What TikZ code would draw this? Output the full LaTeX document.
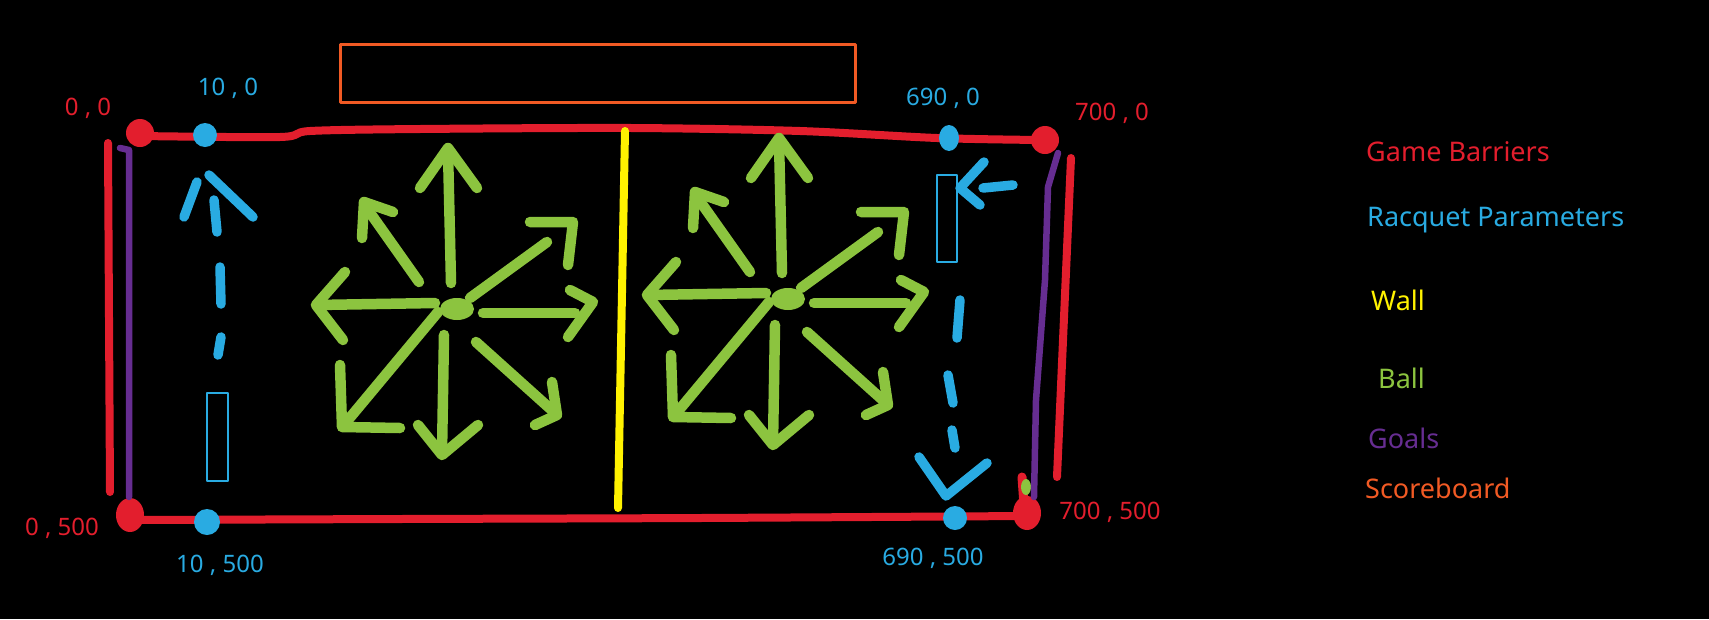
\documentclass[tikz,border=0pt]{standalone}
\usepackage{fontspec}
\setmainfont{Noto Sans}
\definecolor{gbred}{HTML}{E31E2D}
\definecolor{rqblue}{HTML}{29ABE2}
\definecolor{ballgreen}{HTML}{8CC43F}
\definecolor{wallyellow}{HTML}{FFF200}
\definecolor{goalpurple}{HTML}{662D91}
\definecolor{scoreorange}{HTML}{F15A24}
\begin{document}
\begin{tikzpicture}[x=1pt,y=-1pt,line cap=round,line join=round,
  barrier/.style={gbred,line width=8pt},
  goal/.style={goalpurple,line width=6.5pt},
  balla/.style={ballgreen,line width=10.5pt},
  rq/.style={rqblue,line width=9.5pt},
  rqbox/.style={rqblue,line width=2.5pt},
  lbl/.style={font=\fontsize{24}{24}\selectfont,inner sep=0pt},
  leg/.style={font=\fontsize{27}{30}\selectfont,inner sep=0pt,anchor=west}]
\fill[black] (0,0) rectangle (1709,619);
\useasboundingbox (0,0) rectangle (1709,619);
% scoreboard
\draw[scoreorange,line width=3pt] (340,44) rectangle (855,102);
% barriers
\draw[barrier] plot[smooth] coordinates {(140,136) (280,137) (310,131) (420,129) (632,128) (800,131) (937,138) (1040,140)};
\draw[barrier] plot[smooth] coordinates {(130,520) (400,519) (700,518) (1025,516)};
\draw[barrier] (108,143) -- (110,492);
\draw[barrier] (1071,158) -- (1057,477);
\draw[gbred,line width=9pt] (1022,477) -- (1024,505);
\fill[gbred] (140,133) circle (14);
\fill[gbred] (130,515) ellipse (14 and 17);
\fill[gbred] (1045,140) circle (14);
\fill[gbred] (1027,513) ellipse (14 and 17);
\fill[ballgreen] (1026,487) ellipse (5 and 8);
% goals
\draw[goal] (120,148) -- (129,150) -- (129,497);
\draw[goal] (1058,153) -- (1048,187) -- (1045,280) -- (1036,400) -- (1034,497);
% wall
\draw[wallyellow,line width=8pt] (625,131) -- (618,508);
% racquet points
\fill[rqblue] (205,135) circle (12);
\fill[rqblue] (207,522) circle (13);
\fill[rqblue] (949,138) ellipse (10 and 13);
\fill[rqblue] (955,518) circle (12);
% racquets
\draw[rqbox] (207,393) rectangle (228,481);
\draw[rqbox] (937,175) rectangle (957,262);
% left racquet movement
\draw[rq] (197,182) -- (184,217);
\draw[rq] (209,175) -- (253,217);
\draw[rq] (214,200) -- (217,232);
\draw[rq] (220,267) -- (221,304);
\draw[rq] (221,337) -- (218,355);
% right racquet movement
\draw[rq] (983,188) -- (1013,185);
\draw[rq] (984,162) -- (960,188) -- (980,205);
\draw[rq] (960,300) -- (957,338);
\draw[rq] (948,375) -- (953,403);
\draw[rq] (952,430) -- (955,448);
\draw[rq] (919,457) -- (946,496) -- (987,463);
% balls
\foreach \dx/\dy in {0/0,331/-10}{
\begin{scope}[shift={(\dx,\dy)}]
\fill[ballgreen] (457,309) ellipse (17 and 11);
\draw[balla] (451,283) -- (448,150);
\draw[balla] (420,188) -- (448,148) -- (477,188);
\draw[balla] (419,282) -- (366,207);
\draw[balla] (393,212) -- (364,202) -- (362,238);
\draw[balla] (435,303) -- (317,305);
\draw[balla] (345,272) -- (316,305) -- (343,340);
\draw[balla] (438,312) -- (343,426);
\draw[balla] (340,365) -- (342,427) -- (400,428);
\draw[balla] (444,335) -- (442,453);
\draw[balla] (418,425) -- (442,455) -- (478,425);
\draw[balla] (476,342) -- (555,413);
\draw[balla] (552,382) -- (557,415) -- (535,425);
\draw[balla] (483,313) -- (575,313);
\draw[balla] (570,290) -- (593,302) -- (568,337);
\draw[balla] (470,298) -- (547,242);
\draw[balla] (530,222) -- (573,222) -- (568,265);
\end{scope}}
% coordinate labels
\node[lbl,text=gbred] (c00) at (88,108) {0 , 0};
\node[lbl,text=rqblue] (c100) at (228,88) {10 , 0};
\node[lbl,text=gbred] (c0500) at (62,528) {0 , 500};
\node[lbl,text=rqblue] (c10500) at (220,565) {10 , 500};
\node[lbl,text=rqblue] (c6900) at (943,98) {690 , 0};
\node[lbl,text=gbred] (c7000) at (1112,113) {700 , 0};
\node[lbl,text=rqblue] (c690500) at (933,558) {690 , 500};
\node[lbl,text=gbred] (c700500) at (1110,512) {700 , 500};
% legend
\node[leg,text=gbred] (lgb) at (1366,152) {Game Barriers};
\node[leg,text=rqblue] (lrq) at (1367,220) {Racquet Parameters};
\node[leg,text=wallyellow] (lwall) at (1371,300) {Wall};
\node[leg,text=ballgreen] (lball) at (1378,378) {Ball};
\node[leg,text=goalpurple] (lgoal) at (1368,438) {Goals};
\node[leg,text=scoreorange] (lscore) at (1365,488) {Scoreboard};
\end{tikzpicture}
\end{document}
